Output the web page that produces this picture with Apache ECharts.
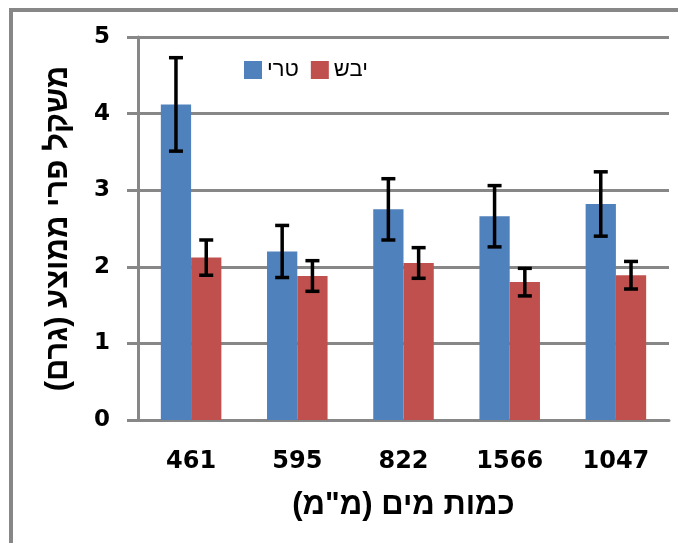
<!DOCTYPE html>
<html>
<head>
<meta charset="utf-8">
<script src="https://cdn.jsdelivr.net/npm/echarts@6/dist/echarts.min.js"></script>
<style>
html,body{margin:0;padding:0;background:#fff;}
#chart{width:678px;height:543px;}
</style>
</head>
<body>
<div id="chart"></div>
<script>
// ---- data ----
var categories = ['461', '595', '822', '1566', '1047'];
var seriesNames = ['טרי', 'יבש'];
var freshValues = [4.12, 2.20, 2.75, 2.66, 2.82];
var freshErrors = [0.61, 0.34, 0.40, 0.40, 0.42];
var dryValues = [2.12, 1.88, 2.05, 1.80, 1.89];
var dryErrors = [0.23, 0.20, 0.20, 0.18, 0.18];
var yTicks = [0, 1, 2, 3, 4, 5];

var NUM_FONT = '"DejaVu Sans", "Liberation Sans", Arial, sans-serif';
var HEB_FONT = '"Liberation Sans", Arial, sans-serif';
var GRAY = '#878787';
var CAT_GAP = 0.43;
var COLORS = ['#4F81BD', '#C0504D'];

function errData(vals, errs, s) {
  return vals.map(function (v, i) { return [i, v, errs[i], s]; });
}

function renderErr(params, api) {
  var idx = api.value(0), v = api.value(1), e = api.value(2), s = api.value(3);
  var band = api.size([1, 0])[0];
  var bw = band * (1 - CAT_GAP) / 2;
  var x = api.coord([idx, v])[0] + (s === 0 ? -bw / 2 : bw / 2);
  var yTop = api.coord([idx, v + e])[1];
  var yBot = api.coord([idx, v - e])[1];
  var c = 7;
  var st = { stroke: '#000', lineWidth: 3.5 };
  return {
    type: 'group',
    children: [
      { type: 'line', shape: { x1: x, y1: yTop, x2: x, y2: yBot }, style: st },
      { type: 'line', shape: { x1: x - c, y1: yTop, x2: x + c, y2: yTop }, style: st },
      { type: 'line', shape: { x1: x - c, y1: yBot, x2: x + c, y2: yBot }, style: st }
    ]
  };
}

var chart = echarts.init(document.getElementById('chart'));
chart.setOption({
  animation: false,
  backgroundColor: '#fff',
  textStyle: { fontFamily: HEB_FONT },
  graphic: [{
    type: 'rect', z: 100,
    shape: { x: 11, y: 10, width: 720, height: 620 },
    style: { fill: 'none', stroke: GRAY, lineWidth: 4 }
  }],
  legend: {
    left: 244, top: 59, padding: 0,
    itemWidth: 18, itemHeight: 18, itemGap: 12,
    icon: 'rect',
    textStyle: { fontFamily: HEB_FONT, fontSize: 22, color: '#000' },
    data: seriesNames
  },
  grid: { left: 138, right: 9, top: 37, bottom: 123 },
  xAxis: {
    type: 'category',
    data: categories,
    name: 'כמות מים (מ"מ)',
    nameLocation: 'middle',
    nameGap: 70,
    nameTextStyle: { fontFamily: HEB_FONT, fontSize: 31, fontWeight: 'bold', color: '#000' },
    axisLine: { lineStyle: { color: GRAY, width: 3 } },
    axisTick: { length: 11, lineStyle: { color: GRAY, width: 3 } },
    axisLabel: { margin: 30, fontFamily: NUM_FONT, fontSize: 24, fontWeight: 'bold', color: '#000' }
  },
  yAxis: {
    type: 'value',
    min: yTicks[0], max: yTicks[yTicks.length - 1], interval: 1,
    name: 'משקל פרי ממוצע (גרם)',
    nameLocation: 'middle',
    nameGap: 64,
    nameRotate: 90,
    nameTextStyle: { fontFamily: HEB_FONT, fontSize: 31, fontWeight: 'bold', color: '#000' },
    axisLine: { show: true, lineStyle: { color: GRAY, width: 3 } },
    axisTick: { show: true, length: 11, lineStyle: { color: GRAY, width: 3 } },
    axisLabel: { margin: 28, fontFamily: NUM_FONT, fontSize: 23, fontWeight: 'bold', color: '#000' },
    splitLine: { lineStyle: { color: GRAY, width: 3 } }
  },
  series: [
    {
      name: seriesNames[0], type: 'bar', data: freshValues,
      barGap: '0%', barCategoryGap: (CAT_GAP * 100) + '%',
      itemStyle: { color: COLORS[0] }
    },
    {
      name: seriesNames[1], type: 'bar', data: dryValues,
      barGap: '0%', barCategoryGap: (CAT_GAP * 100) + '%',
      itemStyle: { color: COLORS[1] }
    },
    {
      type: 'custom', renderItem: renderErr, z: 10,
      data: errData(freshValues, freshErrors, 0),
      encode: { x: 0, y: 1 }, silent: true
    },
    {
      type: 'custom', renderItem: renderErr, z: 10,
      data: errData(dryValues, dryErrors, 1),
      encode: { x: 0, y: 1 }, silent: true
    }
  ]
});
</script>
</body>
</html>
